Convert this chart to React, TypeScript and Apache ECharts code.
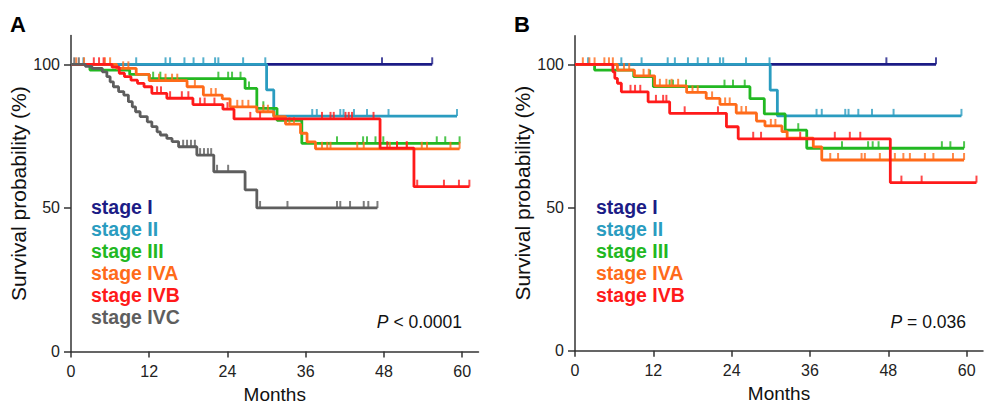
import React, { useEffect, useRef } from "react";
import * as echarts from "echarts";

type Pt = [number, number];

const FONT = '"Liberation Sans", Arial, Helvetica, sans-serif';

const stageNames = ["stage I", "stage II", "stage III", "stage IVA", "stage IVB", "stage IVC"];
const stageColors = ["#1c1c86", "#2a9cc0", "#22b822", "#ff6b1a", "#ff1a1a", "#5e5e5e"];
const xTicks = [0, 12, 24, 36, 48, 60];
const yTicks = [0, 50, 100];
const pTexts = ["{i|P} < 0.0001", "{i|P} = 0.036"];
const panelLabels = ["A", "B"];

// ---------- Panel A ----------
const aStageI: Pt[] = [[0, 100], [55.4, 100]];
const aStageICens = [47.7, 55.4];

const aStageII: Pt[] = [[0, 100], [30.0, 91.1], [31.1, 82], [59.2, 82]];
const aStageIICens = [1.9, 10.0, 14.5, 15.2, 17.4, 18.8, 20.3, 22.1, 22.6, 26.4, 29.8, 37.0, 37.7, 41.3, 41.8, 43.4, 45.4, 48.7, 59.2];

const aStageIII: Pt[] = [[0, 100], [2.9, 98], [9, 96.5], [12, 95], [26.7, 91.6], [28.5, 84.7], [31.6, 80.5], [35.4, 72.5], [59.6, 72.5]];
const aStageIIICens = [12.6, 13.7, 22.6, 24.1, 24.7, 26.0, 27.3, 29.5, 40.8, 44.8, 45.4, 46.7, 47.9, 56.1, 57.4, 59.6];

const aStageIVA: Pt[] = [[0, 100], [7, 98.6], [10, 96.5], [12, 94.3], [17.8, 92.2], [20.3, 89.3], [23.2, 88], [24.4, 85.2], [28.5, 83.5], [31.1, 81.8], [32.9, 79.2], [35.2, 76], [36.2, 73], [37.5, 70.6], [59.6, 70.6]];
const aStageIVACens = [0.8, 2.0, 5.2, 6.0, 8.0, 8.8, 13.5, 14.5, 15.5, 16.3, 19.0, 21.5, 22.2, 25.5, 26.3, 27.2, 29.5, 30.2, 33.5, 34.2, 38.5, 39.3, 39.8, 43.9, 44.9, 47.4, 48.9, 50.0, 51.5, 53.8, 54.6, 58.2, 59.6];

const aStageIVB: Pt[] = [[0, 100], [6.3, 99], [7.4, 96.9], [8.2, 95.7], [9.2, 94.5], [10.2, 93.4], [11.2, 92.2], [12.4, 89.9], [14.7, 88.2], [18.7, 86], [23.3, 84.4], [25.0, 81], [47.4, 70.8], [52.6, 57.4], [61.1, 57.4]];
const aStageIVBCens = [3.5, 4.3, 5.0, 13.2, 13.8, 15.2, 17.0, 18.0, 19.8, 20.5, 22.0, 24.0, 27.5, 29.0, 38.5, 39.8, 40.3, 42.1, 42.6, 43.1, 46.4, 48.5, 50.0, 51.5, 53.1, 57.2, 59.5, 61.1];

const aStageIVC: Pt[] = [[0, 100], [2.2, 99.3], [3.2, 98.6], [4.8, 97.4], [5.5, 95.7], [6.0, 93.9], [6.5, 92.2], [7.3, 90.5], [8.1, 89.3], [8.8, 87], [9.4, 85.2], [9.9, 83.5], [10.6, 81.8], [11.7, 80], [12.4, 78.3], [13.2, 76.5], [13.7, 75.4], [14.7, 74.2], [15.5, 73.1], [16.5, 71.3], [19.3, 68.4], [21.9, 62.6], [26.7, 56.3], [28.5, 50], [47, 50]];
const aStageIVCCens = [0.5, 1.2, 17.2, 17.8, 18.4, 19.0, 19.8, 20.4, 21.0, 21.5, 22.4, 24.1, 29.0, 33.2, 40.8, 41.3, 42.8, 44.9, 45.6, 47];

// ---------- Panel B ----------
const bStageI: Pt[] = [[0, 100], [55.3, 100]];
const bStageICens = [47.7, 55.3];

const bStageII: Pt[] = [[0, 100], [29.9, 91], [31.0, 82], [59.2, 82]];
const bStageIICens = [2.0, 7.1, 10.2, 14.2, 15.3, 17.3, 18.8, 20.4, 22.2, 22.7, 26.2, 29.8, 37.0, 37.8, 41.4, 41.9, 43.4, 45.5, 48.8, 59.2];

const bStageIII: Pt[] = [[0, 100], [3, 98], [9, 95.7], [12, 92.2], [26.8, 88], [29, 82.7], [32.2, 77], [35.5, 70.7], [59.6, 70.7]];
const bStageIIICens = [11.5, 14.5, 15.0, 17.0, 22.9, 24.2, 26.0, 34.2, 40.9, 44.9, 45.6, 46.5, 56.2, 57.5, 59.6];

const bStageIVA: Pt[] = [[0, 100], [6.5, 98], [9.1, 96], [12.2, 92.5], [17.1, 90.2], [20.1, 88.1], [22.2, 86], [24.7, 83], [27.8, 80.2], [29.1, 78.5], [31.7, 76.5], [32.5, 74.2], [36.5, 71.2], [37.8, 66.6], [59.6, 66.6]];
const bStageIVACens = [1.2, 2.2, 3.0, 4.5, 5.2, 5.8, 7.5, 8.3, 10.5, 11.3, 13.0, 14.0, 14.8, 15.8, 18.0, 18.8, 21.0, 23.0, 23.7, 25.5, 26.2, 30.0, 30.7, 39.1, 40.3, 43.9, 44.4, 46.7, 49.0, 50.3, 51.3, 53.6, 54.9, 57.9, 59.6];

const bStageIVB: Pt[] = [[0, 100], [5.8, 97.4], [6.1, 95.1], [6.5, 93.4], [7.1, 90.4], [11.2, 86.9], [14.5, 82.9], [23.2, 78.2], [25.0, 74], [48.3, 58.7], [61.5, 58.7]];
const bStageIVBCens = [8.5, 9.2, 10.0, 12.4, 13.5, 14.0, 16.8, 21.9, 27.3, 28.5, 34.5, 39.8, 42.1, 43.7, 50.0, 53.1, 61.5];

const panelA = [
  { curve: aStageI, cens: aStageICens },
  { curve: aStageII, cens: aStageIICens },
  { curve: aStageIII, cens: aStageIIICens },
  { curve: aStageIVA, cens: aStageIVACens },
  { curve: aStageIVB, cens: aStageIVBCens },
  { curve: aStageIVC, cens: aStageIVCCens },
];
const panelB = [
  { curve: bStageI, cens: bStageICens },
  { curve: bStageII, cens: bStageIICens },
  { curve: bStageIII, cens: bStageIIICens },
  { curve: bStageIVA, cens: bStageIVACens },
  { curve: bStageIVB, cens: bStageIVBCens },
];

function survAt(curve: Pt[], t: number): number {
  let s = curve[0][1];
  for (const [ct, cs] of curve) {
    if (ct <= t + 1e-9) s = cs;
    else break;
  }
  return s;
}

function buildSeries(panel: { curve: Pt[]; cens: number[] }[], idx: number) {
  const out: any[] = [];
  panel.forEach((p, i) => {
    out.push({
      type: "line",
      name: stageNames[i],
      xAxisIndex: idx,
      yAxisIndex: idx,
      data: p.curve,
      step: "end",
      showSymbol: false,
      symbol: "none",
      lineStyle: { color: stageColors[i], width: 2.8 },
      z: 2 + i * 0.01,
    });
    out.push({
      type: "scatter",
      name: stageNames[i] + " censored",
      xAxisIndex: idx,
      yAxisIndex: idx,
      data: p.cens.map((t) => [t, survAt(p.curve, t)]),
      symbol: "rect",
      symbolSize: [2, 7],
      symbolOffset: [0, -3.5],
      itemStyle: { color: stageColors[i] },
      z: 2 + i * 0.01,
    });
  });
  return out;
}

const grids = [
  { left: 71, top: 35.6, width: 407.5, height: 316 },
  { left: 575, top: 35.7, width: 408, height: 315 },
];

export default function App() {
  const ref = useRef<HTMLDivElement>(null);
  useEffect(() => {
    if (!ref.current) return;
    const chart = echarts.init(ref.current, undefined, { renderer: "svg" });

    const xAxes = [0, 1].map((i) => ({
      type: "value",
      gridIndex: i,
      min: 0,
      max: 62.5,
      interval: 12,
      axisLine: { show: true, onZero: false, lineStyle: { color: "#333", width: 1.5 } },
      axisTick: { show: true, length: 6, lineStyle: { color: "#333", width: 1.5 }, customValues: xTicks },
      axisLabel: { fontSize: 16, color: "#222", margin: 12, fontFamily: FONT, customValues: xTicks },
      splitLine: { show: false },
      name: "Months",
      nameLocation: "middle",
      nameGap: 31,
      nameTextStyle: { fontSize: 19, color: "#111", fontFamily: FONT },
    }));
    const yAxes = [0, 1].map((i) => ({
      type: "value",
      gridIndex: i,
      min: 0,
      max: 110,
      interval: 50,
      axisLine: { show: true, onZero: false, lineStyle: { color: "#333", width: 1.5 } },
      axisTick: { show: true, length: 7, lineStyle: { color: "#333", width: 1.5 }, customValues: yTicks },
      axisLabel: { fontSize: 16, color: "#222", margin: 11, fontFamily: FONT, customValues: yTicks },
      splitLine: { show: false },
      name: "Survival probability (%)",
      nameLocation: "middle",
      nameGap: 37,
      nameTextStyle: { fontSize: 21, color: "#111", fontFamily: FONT },
    }));

    const legendRows = [206.5, 228.5, 250.5, 272.8, 294.8, 317];
    const legendLeft = [91, 596];
    const graphics: any[] = [];
    [0, 1].forEach((p) => {
      const n = p === 0 ? 6 : 5;
      for (let i = 0; i < n; i++) {
        graphics.push({
          type: "text",
          x: legendLeft[p],
          y: legendRows[i],
          style: {
            text: stageNames[i],
            fill: stageColors[i],
            fontSize: 19.5,
            fontWeight: "bold",
            fontFamily: FONT,
            align: "left",
            verticalAlign: "middle",
          },
        });
      }
    });
    graphics.push(
      {
        type: "text",
        x: 462,
        y: 322,
        style: {
          text: pTexts[0],
          rich: { i: { fontStyle: "italic", fontSize: 17.5, fontFamily: FONT, fill: "#111" } },
          fontSize: 17.5,
          fontFamily: FONT,
          fill: "#111",
          align: "right",
          verticalAlign: "middle",
        },
      },
      {
        type: "text",
        x: 966,
        y: 322,
        style: {
          text: pTexts[1],
          rich: { i: { fontStyle: "italic", fontSize: 17.5, fontFamily: FONT, fill: "#111" } },
          fontSize: 17.5,
          fontFamily: FONT,
          fill: "#111",
          align: "right",
          verticalAlign: "middle",
        },
      },
      {
        type: "text",
        x: 10,
        y: 24,
        style: { text: panelLabels[0], fontSize: 22, fontWeight: "bold", fontFamily: FONT, fill: "#000", verticalAlign: "middle" },
      },
      {
        type: "text",
        x: 514,
        y: 24,
        style: { text: panelLabels[1], fontSize: 22, fontWeight: "bold", fontFamily: FONT, fill: "#000", verticalAlign: "middle" },
      }
    );

    chart.setOption({
      animation: false,
      backgroundColor: "#ffffff",
      grid: grids.map((g) => ({ ...g, containLabel: false, outerBoundsMode: "none" })),
      xAxis: xAxes,
      yAxis: yAxes,
      series: [...buildSeries(panelA, 0), ...buildSeries(panelB, 1)],
      graphic: graphics,
    });
    return () => chart.dispose();
  }, []);
  return (
    <div
      ref={ref}
      style={{ position: "fixed", left: 0, top: 0, width: 988, height: 403, background: "#fff" }}
    />
  );
}
